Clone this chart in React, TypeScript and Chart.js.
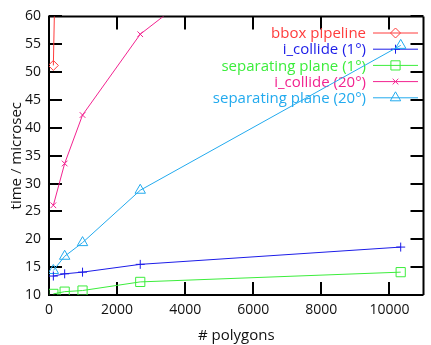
import React, { useEffect, useRef } from 'react';
import { Chart, registerables } from 'chart.js';
import { drawPoint } from 'chart.js/helpers';

Chart.register(...registerables);

// ---- data ----
const POLYGONS = [128, 460, 985, 2680, 10330];
const BBOX_X = [128, 460];
const BBOX = [51.2, 153];
const ICOLLIDE_1 = [13.4, 13.8, 14.1, 15.5, 18.6];
const SEPPLANE_1 = [10.2, 10.6, 10.8, 12.35, 14.1];
const ICOLLIDE_20 = [26.1, 33.6, 42.3, 56.8, 93];
const SEPPLANE_20 = [14.4, 16.95, 19.4, 28.8, 54.8];

const X_TICKS = [0, 2000, 4000, 6000, 8000, 10000];
const Y_TICKS = [10, 15, 20, 25, 30, 35, 40, 45, 50, 55, 60];

const SERIES_LABELS = [
  'bbox pipeline',
  'i_collide (1°)',
  'separating plane (1°)',
  'i_collide (20°)',
  'separating plane (20°)',
];
const COLORS = ['#ff3c3c', '#1c1ce8', '#3ced3c', '#f22390', '#22aaee'];
const MARKERS = ['rectRot', 'cross', 'rect', 'crossRot', 'triangle'];
const RADII = [5, 4.5, 6.5, 4, 6];

const FONT_FAMILY = "'Open Sans', 'DejaVu Sans', sans-serif";

const toPts = (xs: number[], ys: number[]) => ys.map((y, i) => ({ x: xs[i], y }));

const framePlugin = {
  id: 'gnuframe',
  beforeDatasetsDraw(chart: any) {
    const { ctx, chartArea: a, scales } = chart;
    ctx.save();
    ctx.strokeStyle = '#000';
    ctx.lineWidth = 2;
    ctx.beginPath();
    ctx.moveTo(a.left, a.top);
    ctx.lineTo(a.right, a.top);
    ctx.moveTo(a.left, a.top - 1);
    ctx.lineTo(a.left, a.bottom + 1);
    ctx.moveTo(a.left, a.bottom);
    ctx.lineTo(a.right, a.bottom);
    ctx.moveTo(a.right, a.top);
    ctx.lineTo(a.right, a.bottom);
    const L = 13;
    scales.x.ticks.forEach((t: any) => {
      const px = Math.round(scales.x.getPixelForValue(t.value));
      ctx.moveTo(px, a.bottom);
      ctx.lineTo(px, a.bottom - L);
      ctx.moveTo(px, a.top);
      ctx.lineTo(px, a.top + L);
    });
    scales.y.ticks.forEach((t: any) => {
      const py = Math.round(scales.y.getPixelForValue(t.value));
      ctx.moveTo(a.left, py);
      ctx.lineTo(a.left + L, py);
      ctx.moveTo(a.right, py);
      ctx.lineTo(a.right - L, py);
    });
    ctx.stroke();

    // legend (gnuplot style: text right-aligned, then sample line + marker)
    const textRight = 366;
    const lineX0 = 373;
    const lineX1 = 418;
    const y0 = 33;
    const dy = 16.2;
    ctx.font = `15px ${FONT_FAMILY}`;
    ctx.textAlign = 'right';
    ctx.textBaseline = 'middle';
    chart.data.datasets.forEach((ds: any, i: number) => {
      const y = y0 + dy * i;
      ctx.fillStyle = ds.borderColor;
      ctx.fillText(ds.label, textRight, y + 1);
      ctx.strokeStyle = ds.borderColor;
      ctx.lineWidth = 1;
      ctx.beginPath();
      ctx.moveTo(lineX0, y);
      ctx.lineTo(lineX1, y);
      ctx.stroke();
      ctx.fillStyle = 'rgba(0,0,0,0)';
      drawPoint(ctx, { pointStyle: ds.pointStyle, radius: ds.pointRadius, rotation: 0, borderWidth: 1 } as any, (lineX0 + lineX1) / 2, y);
    });
    ctx.restore();
  },
};

export default function App() {
  const ref = useRef<HTMLCanvasElement>(null);
  useEffect(() => {
    if (!ref.current) return;
    const seriesData = [
      toPts(BBOX_X, BBOX),
      toPts(POLYGONS, ICOLLIDE_1),
      toPts(POLYGONS, SEPPLANE_1),
      toPts(POLYGONS, ICOLLIDE_20),
      toPts(POLYGONS, SEPPLANE_20),
    ];
    const tickFont = { family: FONT_FAMILY, size: 14 };
    const titleFont = { family: FONT_FAMILY, size: 15 };
    const chart = new Chart(ref.current, {
      type: 'line',
      data: {
        datasets: seriesData.map((d, i) => ({
          label: SERIES_LABELS[i],
          data: d,
          borderColor: COLORS[i],
          backgroundColor: COLORS[i],
          borderWidth: 1,
          pointStyle: MARKERS[i] as any,
          pointRadius: RADII[i],
          pointBorderColor: COLORS[i],
          pointBackgroundColor: 'rgba(0,0,0,0)',
          pointBorderWidth: 1,
          tension: 0,
          fill: false,
        })),
      },
      options: {
        animation: false,
        responsive: false,
        layout: { padding: { top: 12, right: -1, left: 0, bottom: 0 } },
        plugins: { legend: { display: false }, tooltip: { enabled: false } },
        scales: {
          x: {
            type: 'linear',
            min: 0,
            max: 11000,
            afterBuildTicks: (s: any) => {
              s.ticks = X_TICKS.map((v) => ({ value: v }));
            },
            afterFit: (s: any) => {
              s.height = 50;
            },
            grid: { display: false, drawTicks: false },
            border: { display: false },
            ticks: {
              padding: 7,
              font: tickFont,
              color: '#111',
              maxRotation: 0,
              autoSkip: false,
              callback: (v: any) => String(v),
            },
            title: {
              display: true,
              text: '# polygons',
              font: titleFont,
              color: '#111',
              padding: { top: 0, bottom: 0 },
            },
          },
          y: {
            type: 'linear',
            min: 10,
            max: 60,
            afterBuildTicks: (s: any) => {
              s.ticks = Y_TICKS.map((v) => ({ value: v }));
            },
            afterFit: (s: any) => {
              s.width = 49;
            },
            grid: { display: false, drawTicks: false },
            border: { display: false },
            ticks: {
              padding: 8,
              font: tickFont,
              color: '#111',
              autoSkip: false,
              callback: (v: any) => String(v),
            },
            title: {
              display: true,
              text: 'time / microsec',
              font: titleFont,
              color: '#111',
              padding: { top: 8, bottom: 0 },
            },
          },
        },
      },
      plugins: [framePlugin],
    });
    return () => chart.destroy();
  }, []);
  return (
    <div style={{ position: 'fixed', left: 0, top: 0, width: 431, height: 345, background: '#fff' }}>
      <canvas ref={ref} width={431} height={345} style={{ display: 'block' }} />
    </div>
  );
}
